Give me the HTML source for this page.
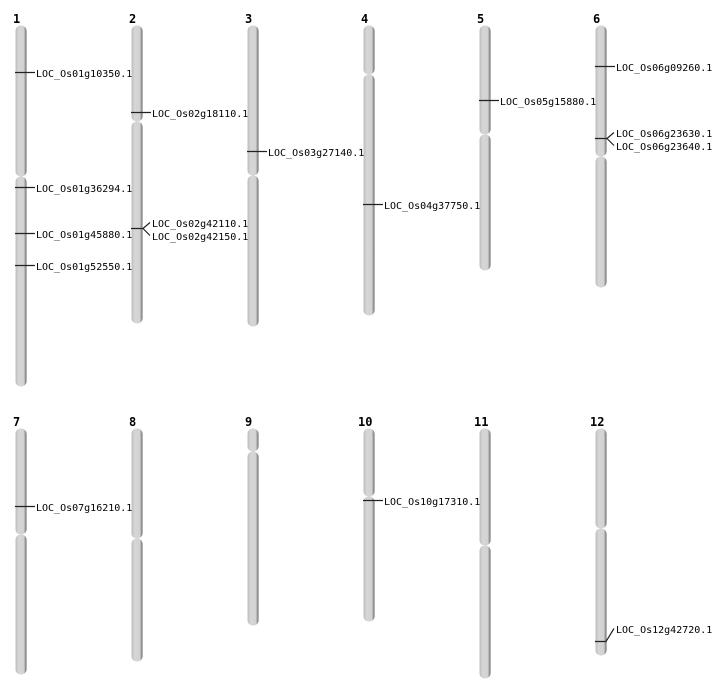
<!DOCTYPE html>
<html><head><meta charset="utf-8"><style>
html,body{margin:0;padding:0;background:#fff;}
svg{display:block;}
text{font-family:"DejaVu Sans Mono","Liberation Mono",monospace;font-size:10px;fill:#000;}
.n{font-weight:bold;font-size:12px;}
.m{stroke:#222;stroke-width:1.2;fill:none;}
</style></head><body>
<svg width="712" height="700" viewBox="0 0 712 700">
<defs>
<linearGradient id="g" x1="0" x2="1" y1="0" y2="0">
<stop offset="0" stop-color="#bdbdbd"/><stop offset="0.3" stop-color="#d6d6d6"/><stop offset="0.75" stop-color="#d2d2d2"/><stop offset="0.9" stop-color="#9a9a9a"/><stop offset="1" stop-color="#555"/>
</linearGradient>
</defs>
<g fill="url(#g)" transform="translate(0.5,0.5)">
<rect x="15" y="25" width="11" height="151" rx="5"/><rect x="15" y="176" width="11" height="210" rx="5"/>
<rect x="131" y="25" width="11" height="96" rx="5"/><rect x="131" y="121" width="11" height="202" rx="5"/>
<rect x="247" y="25" width="11" height="150" rx="5"/><rect x="247" y="175" width="11" height="151" rx="5"/>
<rect x="363" y="25" width="11" height="49" rx="5"/><rect x="363" y="74" width="11" height="241" rx="5"/>
<rect x="479" y="25" width="11" height="109" rx="5"/><rect x="479" y="134" width="11" height="136" rx="5"/>
<rect x="595" y="25" width="11" height="131" rx="5"/><rect x="595" y="156" width="11" height="131" rx="5"/>
<rect x="15" y="428" width="11" height="106" rx="5"/><rect x="15" y="534" width="11" height="140" rx="5"/>
<rect x="131" y="428" width="11" height="110" rx="5"/><rect x="131" y="538" width="11" height="123" rx="5"/>
<rect x="247" y="428" width="11" height="23" rx="5"/><rect x="247" y="451" width="11" height="174" rx="5"/>
<rect x="363" y="428" width="11" height="68" rx="5"/><rect x="363" y="496" width="11" height="125" rx="5"/>
<rect x="479" y="428" width="11" height="117" rx="5"/><rect x="479" y="545" width="11" height="133" rx="5"/>
<rect x="595" y="428" width="11" height="100" rx="5"/><rect x="595" y="528" width="11" height="127" rx="5"/>
</g>
<g transform="translate(0,1)">
<text class="n" x="13" y="22">1</text><text class="n" x="129" y="22">2</text><text class="n" x="245" y="22">3</text>
<text class="n" x="361" y="22">4</text><text class="n" x="477" y="22">5</text><text class="n" x="593" y="22">6</text>
<text class="n" x="13" y="425">7</text><text class="n" x="129" y="425">8</text><text class="n" x="245" y="425">9</text>
<text class="n" x="358" y="425">10</text><text class="n" x="474" y="425">11</text><text class="n" x="590" y="425">12</text>
</g>
<g class="m" transform="translate(0,0.5)">
<path d="M15 72H35"/><path d="M15 187H35"/><path d="M15 233H35"/><path d="M15 265H35"/>
<path d="M131 112H151"/><path d="M131 228H143L150 222M143 228L150 235"/>
<path d="M247 151H267"/><path d="M363 204H383"/><path d="M479 100H499"/>
<path d="M595 66H615"/><path d="M595 138H607L614 132M607 138L614 145"/>
<path d="M15 506H35"/><path d="M363 500H383"/>
<path d="M595 641H606L614 628"/>
</g>
<g transform="translate(0,1)">
<text x="36" y="76">LOC_Os01g10350.1</text><text x="36" y="191">LOC_Os01g36294.1</text>
<text x="36" y="237">LOC_Os01g45880.1</text><text x="36" y="269">LOC_Os01g52550.1</text>
<text x="152" y="116">LOC_Os02g18110.1</text><text x="152" y="226">LOC_Os02g42110.1</text><text x="152" y="239">LOC_Os02g42150.1</text>
<text x="268" y="155">LOC_Os03g27140.1</text><text x="384" y="208">LOC_Os04g37750.1</text>
<text x="500" y="104">LOC_Os05g15880.1</text><text x="616" y="70">LOC_Os06g09260.1</text>
<text x="616" y="136">LOC_Os06g23630.1</text><text x="616" y="149">LOC_Os06g23640.1</text>
<text x="36" y="510">LOC_Os07g16210.1</text><text x="384" y="504">LOC_Os10g17310.1</text>
<text x="616" y="632">LOC_Os12g42720.1</text>
</g>
</svg>
</body></html>
